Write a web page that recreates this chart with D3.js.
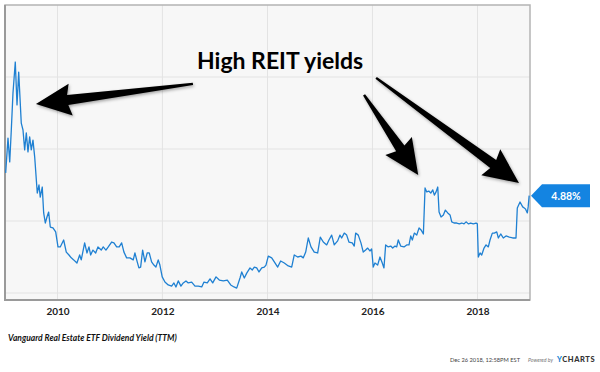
<!DOCTYPE html>
<html>
<head>
<meta charset="utf-8">
<script src="https://cdn.jsdelivr.net/npm/d3@7"></script>
<style>
	body { margin: 0; background: #fff; }
	svg { display: block; font-family: Lato, "Open Sans", sans-serif; }
</style>
</head>
<body>
<div id="chart"></div>
<script>
// decimal years and TTM dividend yield (%)
const years = [
	2009.013, 2009.057, 2009.090, 2009.120, 2009.152, 2009.196, 2009.229, 2009.261, 2009.310, 2009.343,
	2009.375, 2009.406, 2009.438, 2009.470, 2009.501, 2009.533, 2009.566, 2009.615, 2009.648, 2009.672,
	2009.710, 2009.737, 2009.768, 2009.800, 2009.832, 2009.863, 2009.914, 2009.966, 2010.010, 2010.053,
	2010.118, 2010.168, 2010.219, 2010.263, 2010.309, 2010.371, 2010.423, 2010.453, 2010.518, 2010.562,
	2010.600, 2010.632, 2010.676, 2010.728, 2010.771, 2010.834, 2010.872, 2010.924, 2010.968, 2011.032,
	2011.076, 2011.128, 2011.177, 2011.223, 2011.267, 2011.318, 2011.381, 2011.444, 2011.476, 2011.520,
	2011.552, 2011.585, 2011.623, 2011.667, 2011.710, 2011.749, 2011.794, 2011.838, 2011.876, 2011.920,
	2011.952, 2011.996, 2012.048, 2012.110, 2012.175, 2012.219, 2012.257, 2012.301, 2012.352, 2012.396,
	2012.448, 2012.491, 2012.556, 2012.619, 2012.682, 2012.747, 2012.790, 2012.853, 2012.905, 2012.956,
	2013.019, 2013.082, 2013.158, 2013.234, 2013.299, 2013.362, 2013.413, 2013.476, 2013.509, 2013.558,
	2013.604, 2013.667, 2013.710, 2013.749, 2013.794, 2013.838, 2013.890, 2013.939, 2013.971, 2014.015,
	2014.080, 2014.130, 2014.194, 2014.251, 2014.320, 2014.396, 2014.461, 2014.510, 2014.575, 2014.638,
	2014.682, 2014.728, 2014.777, 2014.829, 2014.891, 2014.956, 2015.006, 2015.063, 2015.128, 2015.171,
	2015.223, 2015.272, 2015.337, 2015.381, 2015.413, 2015.463, 2015.509, 2015.552, 2015.615, 2015.653,
	2015.680, 2015.730, 2015.781, 2015.825, 2015.870, 2015.909, 2015.952, 2015.985, 2016.015, 2016.048,
	2016.099, 2016.143, 2016.187, 2016.219, 2016.251, 2016.301, 2016.347, 2016.385, 2016.429, 2016.461,
	2016.491, 2016.537, 2016.600, 2016.651, 2016.695, 2016.728, 2016.758, 2016.796, 2016.842, 2016.886,
	2016.924, 2016.968, 2017.000, 2017.032, 2017.070, 2017.109, 2017.147, 2017.177, 2017.210, 2017.242,
	2017.267, 2017.305, 2017.349, 2017.387, 2017.432, 2017.476, 2017.509, 2017.552, 2017.604, 2017.653,
	2017.699, 2017.743, 2017.781, 2017.825, 2017.870, 2017.920, 2017.971, 2017.996, 2018.015, 2018.048,
	2018.080, 2018.124, 2018.162, 2018.206, 2018.238, 2018.282, 2018.320, 2018.366, 2018.397, 2018.442,
	2018.491, 2018.543, 2018.606, 2018.670, 2018.733, 2018.758, 2018.810, 2018.861, 2018.891, 2018.914,
	2018.949, 2018.965, 2018.984
];
const yields = [
	5.67, 6.88, 6.05, 7.16, 8.44, 9.52, 8.03, 9.17, 7.40, 7.16,
	6.47, 7.06, 6.40, 6.92, 6.47, 6.81, 6.22, 4.97, 5.25, 4.83,
	5.18, 4.28, 3.93, 4.14, 4.31, 3.79, 3.76, 3.62, 3.10, 3.10,
	3.34, 2.92, 2.82, 2.72, 2.65, 2.54, 2.82, 2.65, 3.24, 2.89,
	3.10, 2.82, 2.99, 2.89, 3.10, 2.99, 3.10, 2.99, 3.10, 3.27,
	3.24, 3.10, 3.10, 3.24, 2.92, 2.72, 2.72, 2.65, 2.89, 2.58,
	2.37, 2.40, 2.99, 2.58, 2.89, 2.89, 2.58, 2.47, 2.40, 2.65,
	2.47, 2.06, 1.88, 1.78, 1.74, 1.85, 1.71, 1.92, 1.74, 1.85,
	1.92, 1.85, 1.88, 1.74, 1.74, 1.71, 1.88, 1.85, 1.99, 1.85,
	2.06, 1.95, 1.92, 1.95, 1.78, 1.71, 1.67, 2.02, 2.23, 2.02,
	2.19, 2.37, 2.30, 2.40, 2.37, 2.23, 2.37, 2.40, 2.47, 2.78,
	2.72, 2.58, 2.40, 2.61, 2.54, 2.44, 2.40, 2.82, 2.75, 2.78,
	2.72, 2.92, 3.41, 3.10, 2.92, 2.89, 3.44, 3.27, 3.17, 3.34,
	3.51, 3.17, 3.31, 3.51, 3.41, 3.58, 3.51, 3.27, 3.24, 3.13,
	3.58, 3.51, 3.24, 2.92, 2.99, 3.06, 2.96, 3.03, 2.40, 2.54,
	2.47, 2.75, 2.54, 2.37, 3.17, 3.10, 3.13, 3.06, 3.13, 3.10,
	3.34, 3.13, 3.10, 3.17, 3.17, 3.48, 3.34, 3.58, 3.51, 3.76,
	3.69, 3.55, 5.15, 5.01, 5.04, 4.97, 5.08, 4.90, 5.01, 5.18,
	4.31, 4.14, 4.21, 4.38, 4.28, 4.21, 3.97, 3.93, 3.93, 3.90,
	3.93, 3.90, 3.97, 3.90, 3.93, 3.90, 3.93, 3.90, 2.75, 2.89,
	2.82, 3.06, 3.17, 3.10, 3.34, 3.58, 3.58, 3.62, 3.41, 3.55,
	3.41, 3.48, 3.44, 3.41, 3.41, 4.45, 4.66, 4.49, 4.45, 4.42,
	4.28, 4.49, 4.88
];
const tickYears = [2010, 2012, 2014, 2016, 2018];
const gridYields = [1.5, 4, 6.5, 9];
const seriesName = "Vanguard Real Estate ETF Dividend Yield (TTM)";
const lastLabel = "4.88%";
const annotation = "High REIT yields";
const stamp = "Dec 26 2018, 12:58PM EST";
// arrows drawn in data space: [year, yield]
const arrowTails = [[2012.58, 8.76], [2015.84, 8.38], [2016.07, 8.97]];
const arrowTips = [[2009.59, 8.06], [2016.87, 5.60], [2018.79, 5.32]];

const width = 600, height = 372;
const plot = { left: 5, right: 530, top: 5, bottom: 300 };
const blue = "#1f80d2";

const toDate = t => {
	const y = Math.floor(t);
	const a = new Date(y, 0, 1), b = new Date(y + 1, 0, 1);
	return new Date(+a + (t - y) * (b - a));
};

const svg = d3.select("#chart").append("svg")
	.attr("width", width).attr("height", height);

const defs = svg.append("defs");
const shadow = defs.append("filter").attr("id", "shadow")
	.attr("x", "-20%").attr("y", "-20%").attr("width", "140%").attr("height", "140%");
shadow.append("feDropShadow").attr("dx", 1).attr("dy", 1.5)
	.attr("stdDeviation", 1.5).attr("flood-color", "#000").attr("flood-opacity", 0.35);

const xScale = d3.scaleTime()
	.domain([toDate(2009), toDate(2019)])
	.range([plot.left, plot.right]);
const yScale = d3.scaleLinear()
	.domain([4 - (plot.bottom - 221) / 28.8, 4 + (221 - plot.top) / 28.8])
	.range([plot.bottom, plot.top]);

// plot background
svg.append("rect")
	.attr("x", plot.left).attr("y", plot.top)
	.attr("width", plot.right - plot.left).attr("height", plot.bottom - plot.top)
	.attr("fill", "#f7f7f7");

// grid
svg.append("g").selectAll("line").data(gridYields).join("line")
	.attr("x1", plot.left).attr("x2", plot.right)
	.attr("y1", d => yScale(d)).attr("y2", d => yScale(d))
	.attr("stroke", "#e3e3e3").attr("stroke-width", 1);
svg.append("g").selectAll("line").data(tickYears).join("line")
	.attr("x1", d => xScale(toDate(d))).attr("x2", d => xScale(toDate(d)))
	.attr("y1", plot.top).attr("y2", plot.bottom)
	.attr("stroke", "#e3e3e3").attr("stroke-width", 1);

// frame
svg.append("rect")
	.attr("x", plot.left).attr("y", plot.top)
	.attr("width", plot.right - plot.left).attr("height", plot.bottom - plot.top)
	.attr("fill", "none").attr("stroke", "#b4b4b4").attr("stroke-width", 1.5);
svg.append("path")
	.attr("d", `M${plot.left},${plot.top}V${plot.bottom}H${plot.right}`)
	.attr("fill", "none").attr("stroke", "#9a9a9a").attr("stroke-width", 2);

// x axis
const xAxis = d3.axisBottom(xScale)
	.tickValues(tickYears.map(toDate))
	.tickFormat(d3.timeFormat("%Y"))
	.tickSize(0).tickPadding(8);
const xAxisG = svg.append("g")
	.attr("transform", `translate(0,${plot.bottom})`)
	.call(xAxis);
xAxisG.select(".domain").remove();
xAxisG.selectAll("text")
	.attr("font-family", "Lato, sans-serif").attr("font-size", 10)
	.attr("font-weight", 700).attr("fill", "#222");

// series line
const line = d3.line()
	.x((d, i) => xScale(toDate(years[i])))
	.y(d => yScale(d));
svg.append("path")
	.datum(yields)
	.attr("d", line)
	.attr("fill", "none").attr("stroke", blue)
	.attr("stroke-width", 1.3).attr("stroke-linejoin", "round");

// last value flag
const lastY = yScale(yields[yields.length - 1]);
const flagX = plot.right + 1;
svg.append("path")
	.attr("d", `M${flagX},${lastY}L${flagX + 11},${lastY - 11.5}H${flagX + 59}V${lastY + 11.5}H${flagX + 11}Z`)
	.attr("fill", "#1484e1");
svg.append("text")
	.attr("x", flagX + 35).attr("y", lastY + 4)
	.attr("text-anchor", "middle")
	.attr("font-size", 10.5).attr("font-weight", 700).attr("fill", "#fff")
	.text(lastLabel);

// annotation arrows
const arrowShape = (t, p) => {
	const dx = p[0] - t[0], dy = p[1] - t[1], len = Math.hypot(dx, dy);
	const ux = dx / len, uy = dy / len, nx = -uy, ny = ux;
	const headLen = 32, w0 = 1.2, w1 = 5, hw = 16;
	const bx = p[0] - ux * headLen, by = p[1] - uy * headLen;
	return [
		[t[0] + nx * w0, t[1] + ny * w0],
		[bx + nx * w1, by + ny * w1],
		[bx + nx * hw - ux * 3, by + ny * hw - uy * 3],
		p,
		[bx - nx * hw - ux * 3, by - ny * hw - uy * 3],
		[bx - nx * w1, by - ny * w1],
		[t[0] - nx * w0, t[1] - ny * w0]
	];
};
const toPx = d => [xScale(toDate(d[0])), yScale(d[1])];
svg.append("g").attr("filter", "url(#shadow)")
	.selectAll("path").data(arrowTails).join("path")
	.attr("d", (d, i) => d3.line()(arrowShape(toPx(d), toPx(arrowTips[i]))) + "Z")
	.attr("fill", "#000");

svg.append("text")
	.attr("x", 197).attr("y", 69)
	.attr("font-size", 23).attr("font-weight", 700).attr("fill", "#000")
	.text(annotation);

// captions
svg.append("text")
	.attr("x", 8).attr("y", 341)
	.attr("font-size", 8.5).attr("font-weight", 700).attr("font-style", "italic")
	.attr("fill", "#111")
	.text(seriesName);

svg.append("text")
	.attr("x", 450).attr("y", 362)
	.attr("font-size", 6.5).attr("fill", "#444")
	.attr("textLength", 70).attr("lengthAdjust", "spacingAndGlyphs")
	.text(stamp);
svg.append("text")
	.attr("x", 528).attr("y", 362)
	.attr("font-size", 5.5).attr("font-style", "italic").attr("fill", "#777")
	.attr("textLength", 25).attr("lengthAdjust", "spacingAndGlyphs")
	.text("Powered by");
const brand = svg.append("text")
	.attr("x", 557).attr("y", 362)
	.attr("font-size", 7.5).attr("font-weight", 900).attr("letter-spacing", 0.6)
	.attr("fill", "#333");
brand.append("tspan").attr("fill", "#1a86d6").text("Y");
brand.append("tspan").text("CHARTS");
</script>
</body>
</html>
